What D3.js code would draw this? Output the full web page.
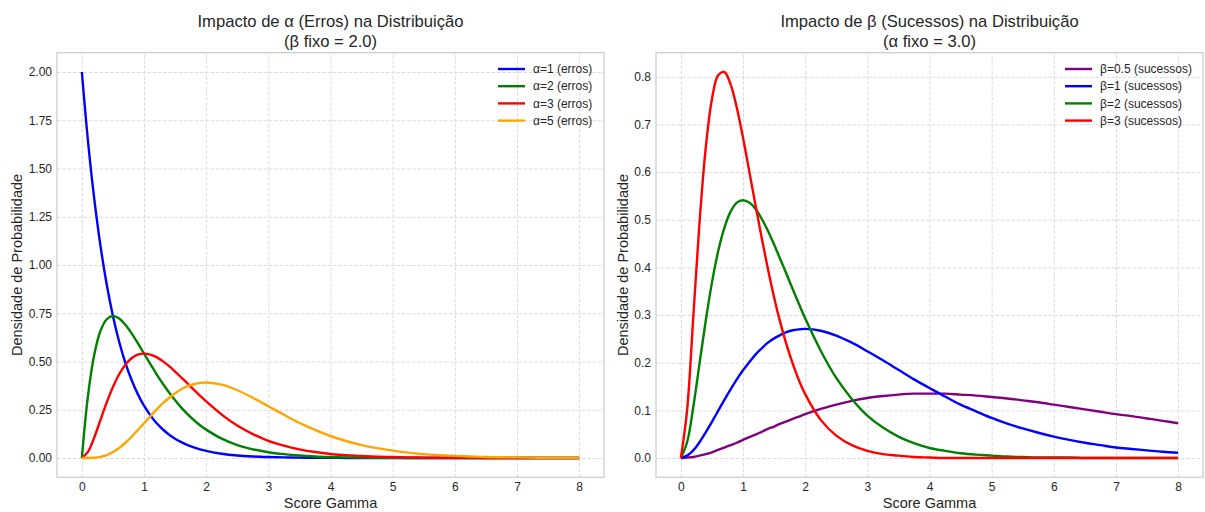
<!DOCTYPE html>
<html>
<head>
<meta charset="utf-8">
<script src="https://cdn.jsdelivr.net/npm/d3@7"></script>
<style>
  body { margin: 0; background: #ffffff; }
  text { font-family: "Liberation Sans", Arial, sans-serif; fill: #262626; }
</style>
</head>
<body>
<svg id="chart" width="1205" height="512"></svg>
<script>
// Sample positions along the score axis (denser where the curves bend sharply)
const scores = [0, 0.1, 0.2, 0.3, 0.4, 0.5, 0.6, 0.7, 0.8, 0.9, 1.0, 1.1, 1.2, 1.3, 1.4, 1.5, 1.6, 1.7, 1.8, 1.9, 2.0,
  2.25, 2.5, 2.75, 3.0, 3.25, 3.5, 3.75, 4.0, 4.25, 4.5, 4.75, 5.0, 5.25, 5.5, 5.75, 6.0, 6.25, 6.5, 6.75, 7.0, 7.25, 7.5, 7.75, 8.0];

// Left panel: beta fixed at 2.0, varying alpha
const alphaLabels = ["α=1 (erros)", "α=2 (erros)", "α=3 (erros)", "α=5 (erros)"];
const alphaColors = ["#0000ff", "#008000", "#ff0000", "#ffa500"];
const densAlpha1 = [2.000, 1.637, 1.341, 1.098, 0.899, 0.736, 0.602, 0.493, 0.404, 0.331, 0.271, 0.222, 0.181, 0.149, 0.122, 0.100, 0.082, 0.067, 0.055, 0.045, 0.037,
  0.022, 0.013, 0.008, 0.005, 0.003, 0.002, 0.001, 0.001, 0, 0, 0, 0, 0, 0, 0, 0, 0, 0, 0, 0, 0, 0, 0, 0];
const densAlpha2 = [0, 0.327, 0.536, 0.659, 0.719, 0.736, 0.723, 0.690, 0.646, 0.595, 0.541, 0.488, 0.435, 0.386, 0.341, 0.299, 0.261, 0.227, 0.197, 0.170, 0.147,
  0.100, 0.067, 0.045, 0.030, 0.020, 0.013, 0.008, 0.005, 0.003, 0.002, 0.001, 0.001, 0, 0, 0, 0, 0, 0, 0, 0, 0, 0, 0, 0];
const densAlpha3 = [0, 0.033, 0.107, 0.198, 0.288, 0.368, 0.434, 0.483, 0.517, 0.536, 0.541, 0.536, 0.523, 0.502, 0.477, 0.448, 0.417, 0.386, 0.354, 0.323, 0.293,
  0.225, 0.168, 0.124, 0.089, 0.064, 0.045, 0.031, 0.021, 0.015, 0.010, 0.007, 0.005, 0.003, 0.002, 0.001, 0.001, 0.001, 0, 0, 0, 0, 0, 0, 0];
const densAlpha5 = [0, 0.000, 0.001, 0.006, 0.015, 0.031, 0.052, 0.079, 0.110, 0.145, 0.180, 0.216, 0.251, 0.283, 0.311, 0.336, 0.356, 0.372, 0.382, 0.389, 0.391,
  0.380, 0.351, 0.312, 0.268, 0.224, 0.182, 0.146, 0.114, 0.088, 0.067, 0.051, 0.038, 0.028, 0.020, 0.015, 0.011, 0.008, 0.005, 0.004, 0.003, 0.002, 0.001, 0.001, 0.001];
const alphaTicksY = [0, 0.25, 0.5, 0.75, 1.0, 1.25, 1.5, 1.75, 2.0];

// Right panel: alpha fixed at 3.0, varying beta
const betaLabels = ["β=0.5 (sucessos)", "β=1 (sucessos)", "β=2 (sucessos)", "β=3 (sucessos)"];
const betaColors = ["#800080", "#0000ff", "#008000", "#ff0000"];
const densBeta05 = [0, 0.001, 0.002, 0.005, 0.008, 0.012, 0.017, 0.022, 0.027, 0.032, 0.038, 0.044, 0.049, 0.055, 0.061, 0.066, 0.072, 0.077, 0.082, 0.087, 0.092,
  0.103, 0.112, 0.120, 0.126, 0.130, 0.133, 0.135, 0.135, 0.135, 0.133, 0.131, 0.128, 0.125, 0.121, 0.117, 0.112, 0.107, 0.102, 0.097, 0.092, 0.088, 0.083, 0.078, 0.073];
const densBeta1 = [0, 0.005, 0.016, 0.033, 0.054, 0.076, 0.099, 0.122, 0.144, 0.165, 0.184, 0.201, 0.217, 0.230, 0.242, 0.251, 0.258, 0.264, 0.268, 0.270, 0.271,
  0.267, 0.257, 0.242, 0.224, 0.205, 0.185, 0.165, 0.147, 0.129, 0.112, 0.098, 0.084, 0.072, 0.062, 0.053, 0.045, 0.038, 0.032, 0.027, 0.022, 0.019, 0.016, 0.013, 0.011];
const densBeta2 = [0, 0.033, 0.107, 0.198, 0.288, 0.368, 0.434, 0.483, 0.517, 0.536, 0.541, 0.536, 0.523, 0.502, 0.477, 0.448, 0.417, 0.386, 0.354, 0.323, 0.293,
  0.225, 0.168, 0.124, 0.089, 0.064, 0.045, 0.031, 0.021, 0.015, 0.010, 0.007, 0.005, 0.003, 0.002, 0.001, 0.001, 0.001, 0, 0, 0, 0, 0, 0, 0];
const densBeta3 = [0, 0.100, 0.296, 0.494, 0.651, 0.753, 0.803, 0.810, 0.784, 0.735, 0.672, 0.602, 0.531, 0.462, 0.397, 0.337, 0.284, 0.238, 0.198, 0.163, 0.134,
  0.080, 0.047, 0.027, 0.015, 0.008, 0.005, 0.002, 0.001, 0, 0, 0, 0, 0, 0, 0, 0, 0, 0, 0, 0, 0, 0, 0, 0];
const betaTicksY = [0, 0.1, 0.2, 0.3, 0.4, 0.5, 0.6, 0.7, 0.8];

const ticksX = [0, 1, 2, 3, 4, 5, 6, 7, 8];

const svg = d3.select("#chart");

const panels = [
  {
    frame: { left: 57, right: 604, top: 52.7, bottom: 477.3 },
    title: ["Impacto de α (Erros) na Distribuição", "(β fixo = 2.0)"],
    series: [densAlpha1, densAlpha2, densAlpha3, densAlpha5],
    labels: alphaLabels, colors: alphaColors,
    ticksY: alphaTicksY, fmtY: d3.format(".2f"),
    yLabelX: 17,
    legendX: 498
  },
  {
    frame: { left: 656, right: 1203, top: 52.7, bottom: 477.3 },
    title: ["Impacto de β (Sucessos) na Distribuição", "(α fixo = 3.0)"],
    series: [densBeta05, densBeta1, densBeta2, densBeta3],
    labels: betaLabels, colors: betaColors,
    ticksY: betaTicksY, fmtY: d3.format(".1f"),
    yLabelX: 622.5,
    legendX: 1065
  }
];

panels.forEach(p => {
  const f = p.frame;
  const g = svg.append("g");

  // 5% padding on each side of the data range
  const xExt = d3.extent(scores);
  const xPad = (xExt[1] - xExt[0]) * 0.05;
  const x = d3.scaleLinear().domain([xExt[0] - xPad, xExt[1] + xPad]).range([f.left, f.right]);
  const yMin = d3.min(p.series, s => d3.min(s));
  const yMax = d3.max(p.series, s => d3.max(s));
  const yPad = (yMax - yMin) * 0.05;
  const y = d3.scaleLinear().domain([yMin - yPad, yMax + yPad]).range([f.bottom, f.top]);

  // dashed grid
  const gridX = g.append("g").attr("transform", `translate(0,${f.bottom})`)
    .call(d3.axisBottom(x).tickValues(ticksX).tickSize(-(f.bottom - f.top)).tickFormat(""));
  const gridY = g.append("g").attr("transform", `translate(${f.left},0)`)
    .call(d3.axisLeft(y).tickValues(p.ticksY).tickSize(-(f.right - f.left)).tickFormat(""));
  [gridX, gridY].forEach(a => {
    a.select(".domain").remove();
    a.selectAll("line").attr("stroke", "#dcdcdc").attr("stroke-width", 1).attr("stroke-dasharray", "3.7,1.6");
  });

  // tick labels
  const axX = g.append("g").attr("transform", `translate(0,${f.bottom})`)
    .call(d3.axisBottom(x).tickValues(ticksX).tickSize(0).tickPadding(5).tickFormat(d3.format("d")));
  const axY = g.append("g").attr("transform", `translate(${f.left},0)`)
    .call(d3.axisLeft(y).tickValues(p.ticksY).tickSize(0).tickPadding(5).tickFormat(p.fmtY));
  [axX, axY].forEach(a => {
    a.select(".domain").remove();
    a.selectAll("text").style("font-family", '"Liberation Sans", Arial, sans-serif')
      .style("font-size", "12px").attr("fill", "#262626");
  });

  // frame
  g.append("rect")
    .attr("x", f.left).attr("y", f.top)
    .attr("width", f.right - f.left).attr("height", f.bottom - f.top)
    .attr("fill", "none").attr("stroke", "#cccccc").attr("stroke-width", 1.25);

  // curves
  const line = d3.line().x((d, i) => x(scores[i])).y(d => y(d)).curve(d3.curveCatmullRom.alpha(0.5));
  p.series.forEach((s, k) => {
    g.append("path").datum(s)
      .attr("d", line)
      .attr("fill", "none")
      .attr("stroke", p.colors[k])
      .attr("stroke-width", 2.4)
      .attr("stroke-linejoin", "round")
      .attr("stroke-linecap", "butt");
  });

  // titles
  const cx = (f.left + f.right) / 2;
  g.append("text").attr("x", cx).attr("y", 27).attr("text-anchor", "middle")
    .style("font-size", "16.6px").text(p.title[0]);
  g.append("text").attr("x", cx).attr("y", 46.5).attr("text-anchor", "middle")
    .style("font-size", "16.6px").text(p.title[1]);

  // axis labels
  g.append("text").attr("x", cx).attr("y", 507.5).attr("text-anchor", "middle")
    .style("font-size", "14.5px").text("Score Gamma");
  const cy = (f.top + f.bottom) / 2;
  g.append("text")
    .attr("transform", `translate(${p.yLabelX},${cy}) rotate(-90)`)
    .attr("text-anchor", "middle").attr("dy", "0.35em")
    .style("font-size", "14.5px").text("Densidade de Probabilidade");

  // legend
  const leg = g.append("g");
  p.labels.forEach((lab, k) => {
    const ly = 69 + k * 17.2;
    leg.append("line")
      .attr("x1", p.legendX).attr("x2", p.legendX + 27)
      .attr("y1", ly).attr("y2", ly)
      .attr("stroke", p.colors[k]).attr("stroke-width", 2.4);
    leg.append("text")
      .attr("x", p.legendX + 35).attr("y", ly).attr("dy", "0.35em")
      .style("font-size", "12px").text(lab);
  });
});
</script>
</body>
</html>
